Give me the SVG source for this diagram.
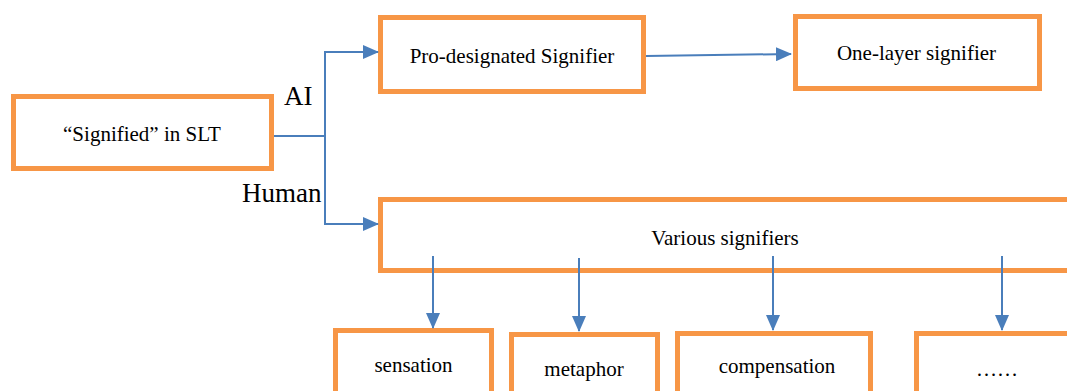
<svg xmlns="http://www.w3.org/2000/svg" width="1067" height="391" viewBox="0 0 1067 391">
<style>
.box{fill:#fff;stroke:#F79646;stroke-width:5}
.t{font-family:'Liberation Serif','DejaVu Serif',serif;font-size:21px;fill:#000;text-anchor:middle;dominant-baseline:central}
.lbl{font-family:'Liberation Serif','DejaVu Serif',serif;font-size:27px;fill:#000}
.c{fill:none;stroke:#4A7EBB;stroke-width:2}
</style>
<defs>
<marker id="ah" markerWidth="16" markerHeight="14" refX="15" refY="7" orient="auto" markerUnits="userSpaceOnUse">
<path d="M0,0 L16,7 L0,14 Z" fill="#4A7EBB"/>
</marker>
</defs>
<rect width="1067" height="391" fill="#fff"/>
<g id="n-signified"><rect class="box" x="13.5" y="96.5" width="258" height="72"/><text class="t" x="142" y="134">“Signified” in SLT</text></g>
<g id="n-pro"><rect class="box" x="380.5" y="17.5" width="263" height="74"/><text class="t" x="512" y="56">Pro-designated Signifier</text></g>
<g id="n-one"><rect class="box" x="795.5" y="16.5" width="244" height="72"/><text class="t" x="916.5" y="53">One-layer signifier</text></g>
<g id="n-various"><rect class="box" x="380.5" y="199.5" width="700" height="71"/><text class="t" x="725" y="238">Various signifiers</text></g>
<g id="n-sensation"><rect class="box" x="335.5" y="330.5" width="156" height="70"/><text class="t" x="413.5" y="365">sensation</text></g>
<g id="n-metaphor"><rect class="box" x="511.5" y="334.5" width="146" height="70"/><text class="t" x="584" y="369">metaphor</text></g>
<g id="n-compensation"><rect class="box" x="677.5" y="333.5" width="193" height="70"/><text class="t" x="777" y="366">compensation</text></g>
<g id="n-etc"><rect class="box" x="916.5" y="333.5" width="170" height="70"/><text class="t" x="997" y="369">……</text></g>
<g id="connectors">
<path class="c" d="M274,136 H325"/>
<path class="c" d="M325,136 V52 H378" marker-end="url(#ah)"/>
<path class="c" d="M325,136 V224 H378" marker-end="url(#ah)"/>
<path class="c" d="M646,56 L791,54" marker-end="url(#ah)"/>
<path class="c" d="M433,256 V328" marker-end="url(#ah)"/>
<path class="c" d="M579,258 V331" marker-end="url(#ah)"/>
<path class="c" d="M773,256 V330" marker-end="url(#ah)"/>
<path class="c" d="M1002,256 V330" marker-end="url(#ah)"/>
<text class="lbl" x="284" y="105">AI</text>
<text class="lbl" x="242" y="202">Human</text>
</g>
</svg>
